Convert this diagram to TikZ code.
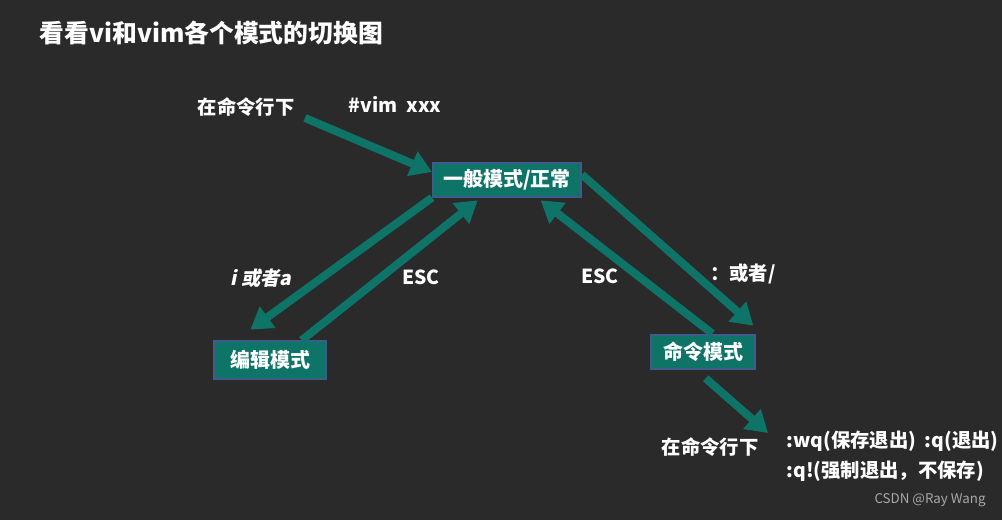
\documentclass[tikz,border=0pt]{standalone}
\usepackage{fontspec}
\usepackage{xcolor}
\usetikzlibrary{arrows.meta}
\setmainfont{Noto Sans CJK SC}
\newfontfamily\slantfont{Noto Sans CJK SC}[FakeSlant=0.2]
\definecolor{board}{HTML}{2A2A2A}
\definecolor{teal}{HTML}{0F7468}
\definecolor{boxline}{HTML}{3D5C8C}
\definecolor{mark}{HTML}{A8A8A8}
\tikzset{
  modebox/.style={draw=boxline,line width=1.5pt,fill=teal,text=white,font=\bfseries\fontsize{15}{17}\selectfont,inner sep=0pt},
  lbl/.style={text=white,font=\bfseries\fontsize{14.5}{16}\selectfont,inner sep=1pt},
  flow/.style={teal,line width=6pt,-{Triangle[width=19pt,length=16pt]}}
}

\begin{document}
\begin{tikzpicture}[x=0.75pt,y=-0.75pt]
    \fill[board](0,0) rectangle (1002,520);
    \node[lbl,anchor=west,font=\bfseries\fontsize{18.6}{20}\selectfont] (title) at (38,33) {看看vi和vim各个模式的切换图};
    % mode boxes
    \node[modebox,minimum width=111pt,minimum height=25pt] (normal) at (507,180) {一般模式/正常};
    \node[modebox,minimum width=84pt,minimum height=28pt] (edit) at (270,360) {编辑模式};
    \node[modebox,minimum width=78pt,minimum height=26pt] (cmd) at (703,352) {命令模式};
    % labels
    \node[lbl] (start) at (246,107) {在命令行下};
    \node[lbl] (vim) at (395,104) {\#vim\ \ xxx};
    \node[lbl,font=\slantfont\bfseries\fontsize{14.5}{16}\selectfont] (ia) at (261,278) {i 或者a};
    \node[lbl] (escl) at (421,277) {ESC};
    \node[lbl] (escr) at (600,276) {ESC};
    \node[lbl] (colon) at (743,274) {：或者/};
    \node[lbl] (shell) at (710,447) {在命令行下};
    \node[lbl,anchor=west] (wq) at (785,441) {:wq(保存退出)\ \ :q(退出)};
    \node[lbl,anchor=west] (qq) at (785,471) {:q!(强制退出，不保存)};
    \node[text=mark,font=\fontsize{10}{12}\selectfont] (csdn) at (930,500) {CSDN @Ray Wang};
    % arrows
    \coordinate (s0) at (305,118);
    \draw[flow](s0)--([yshift=6pt]normal.west);
    \draw[flow](normal.south west)--([xshift=28pt,yshift=8pt]edit.north west);
    \draw[flow]([xshift=-19pt]edit.north east)--([xshift=-22pt,yshift=-2pt]normal.south);
    \draw[flow]([xshift=7pt]cmd.north)--([xshift=-31pt,yshift=-2pt]normal.south east);
    \draw[flow]([yshift=4pt]normal.east)--([xshift=-2pt,yshift=6pt]cmd.north east);
    \coordinate (e6) at (768,433);
    \draw[flow]([xshift=2pt,yshift=-6pt]cmd.south)--(e6);
  \end{tikzpicture}
\end{document}
